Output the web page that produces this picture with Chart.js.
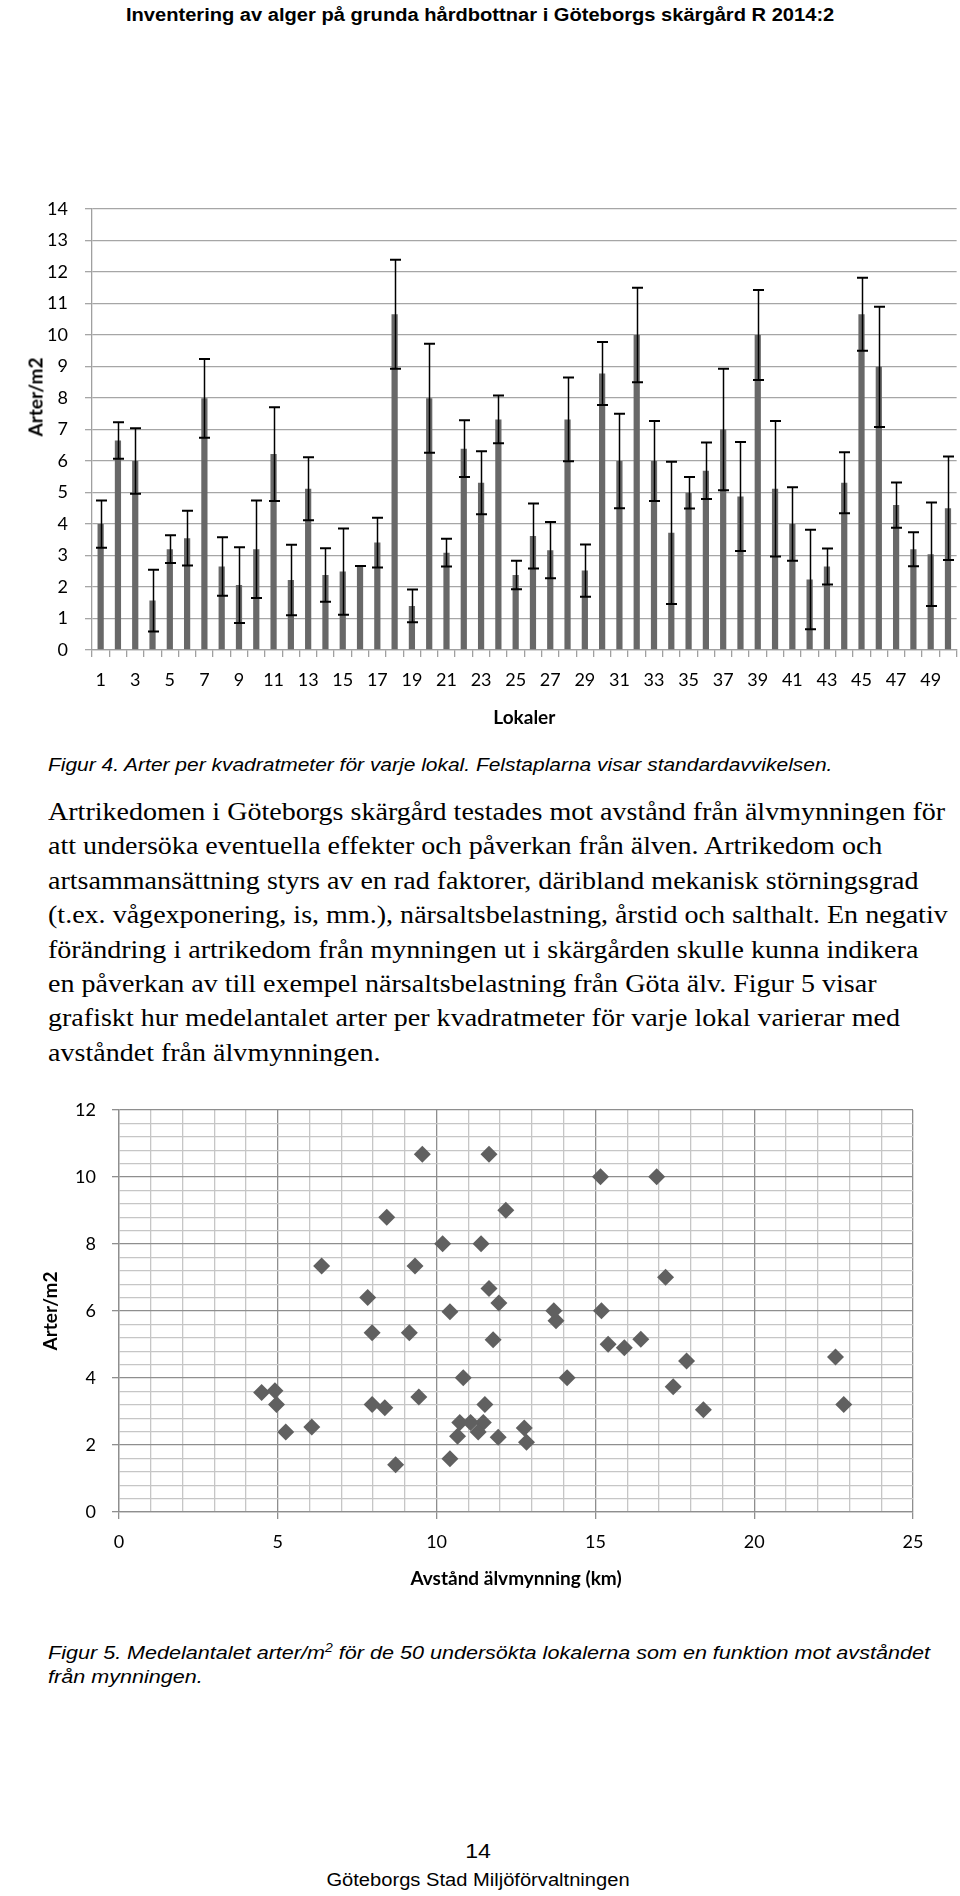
<!DOCTYPE html>
<html>
<head>
<meta charset="utf-8">
<script src="https://cdn.jsdelivr.net/npm/chart.js@4.4.0/dist/chart.umd.min.js"></script>
<style>
  body { margin: 0; width: 960px; height: 1896px; position: relative; background: #fff; overflow: hidden; }
  .abs { position: absolute; }
  #header { top: 5px; left: 0; width: 960px; text-align: center; font: bold 18px "Liberation Sans", Arial, sans-serif; line-height: 20px; color: #000; transform: scaleX(1.117); transform-origin: 479px 0; }
  .cap { left: 48px; font: italic 18.5px "Liberation Sans", Arial, sans-serif; line-height: 24px; white-space: nowrap; color: #000; transform-origin: 0 0; }
  .cap sup { font-size: 12px; line-height: 0; }
  #cap4 { top: 753px; transform: scaleX(1.133); }
  #cap5 { top: 1641px; transform: scaleX(1.166); }
  #body { top: 795px; left: 48px; font: 25.5px "Liberation Serif", "Times New Roman", serif; line-height: 34.4px; white-space: nowrap; color: #000; transform: scaleX(1.1); transform-origin: 0 0; }
  #ytitle1 { left: 35px; top: 397px; transform: translate(-50%, -50%) rotate(-90deg); font: bold 19px Lato, sans-serif; white-space: nowrap; }
  #pagenr { top: 1839px; left: 0; width: 956px; text-align: center; font: 21px "Liberation Sans", Arial, sans-serif; transform: scaleX(1.1); transform-origin: 478px 0; }
  #footer { top: 1870px; left: 0; width: 956px; text-align: center; font: 17.5px "Liberation Sans", Arial, sans-serif; transform: scaleX(1.15); transform-origin: 478px 0; }
</style>
</head>
<body>
<div id="header" class="abs">Inventering av alger på grunda hårdbottnar i Göteborgs skärgård R 2014:2</div>

<canvas id="barChart" class="abs" width="960" height="560" style="left:0;top:180px"></canvas>
<div id="ytitle1" class="abs">Arter/m2</div>

<div id="cap4" class="abs cap">Figur 4. Arter per kvadratmeter för varje lokal. Felstaplarna visar standardavvikelsen.</div>

<div id="body" class="abs">Artrikedomen i Göteborgs skärgård testades mot avstånd från älvmynningen för<br>
att undersöka eventuella effekter och påverkan från älven. Artrikedom och<br>
artsammansättning styrs av en rad faktorer, däribland mekanisk störningsgrad<br>
(t.ex. vågexponering, is, mm.), närsaltsbelastning, årstid och salthalt. En negativ<br>
förändring i artrikedom från mynningen ut i skärgården skulle kunna indikera<br>
en påverkan av till exempel närsaltsbelastning från Göta älv. Figur 5 visar<br>
grafiskt hur medelantalet arter per kvadratmeter för varje lokal varierar med<br>
avståndet från älvmynningen.</div>

<canvas id="scatterChart" class="abs" width="960" height="520" style="left:0;top:1080px"></canvas>

<div id="cap5" class="abs cap">Figur 5. Medelantalet arter/m<sup>2</sup> för de 50 undersökta lokalerna som en funktion mot avståndet<br>från mynningen.</div>

<div id="pagenr" class="abs">14</div>
<div id="footer" class="abs">Göteborgs Stad Miljöförvaltningen</div>

<script>
// Figur 4 - arter per m2 per lokal, med standardavvikelse
var lokaler = ["1","2","3","4","5","6","7","8","9","10","11","12","13","14","15","16","17","18","19","20",
  "21","22","23","24","25","26","27","28","29","30","31","32","33","34","35","36","37","38","39","40",
  "41","42","43","44","45","46","47","48","49","50"];
var medel = [4.0, 6.65, 6.0, 1.57, 3.2, 3.55, 7.99, 2.65, 2.06, 3.2,
  6.22, 2.22, 5.12, 2.38, 2.49, 2.67, 3.41, 10.66, 1.40, 7.99,
  3.09, 6.39, 5.31, 7.32, 2.38, 3.62, 3.17, 7.32, 2.52, 8.78,
  6.0, 10.0, 6.0, 3.72, 4.99, 5.69, 7.0, 4.87, 10.0, 5.12,
  4.0, 2.24, 2.65, 5.31, 10.66, 8.99, 4.6, 3.2, 3.04, 4.5];
var stdav = [0.75, 0.58, 1.04, 0.98, 0.44, 0.87, 1.25, 0.93, 1.2, 1.55,
  1.49, 1.12, 1.0, 0.85, 1.37, 0, 0.79, 1.73, 0.52, 1.73,
  0.44, 0.9, 1.0, 0.76, 0.45, 1.03, 0.89, 1.33, 0.83, 1.0,
  1.5, 1.5, 1.27, 2.26, 0.5, 0.9, 1.93, 1.73, 1.43, 2.15,
  1.17, 1.58, 0.57, 0.97, 1.16, 1.91, 0.72, 0.54, 1.64, 1.64];

// Figur 5 - medelantal arter mot avstånd från älvmynningen
var avstand = [9.55, 11.65, 8.43, 10.19, 11.40, 6.38, 9.32, 7.83, 11.65, 10.42,
  11.96, 7.97, 9.14, 11.78, 10.84, 4.49, 4.91, 4.96, 7.97, 8.37,
  9.44, 11.52, 5.25, 6.07, 10.73, 11.07, 11.47, 10.66, 11.31, 11.94,
  10.42, 8.71, 15.16, 16.93, 12.18, 17.21, 13.69, 13.76, 15.19, 15.40,
  15.91, 16.43, 17.87, 22.56, 14.11, 17.45, 18.40, 22.82, 12.76, 12.83];
var arter = [10.68, 10.68, 8.80, 8.01, 8.01, 7.34, 7.34, 6.40, 6.67, 5.98,
  6.24, 5.35, 5.35, 5.14, 4.01, 3.57, 3.62, 3.21, 3.21, 3.11,
  3.43, 3.21, 2.39, 2.54, 2.67, 2.67, 2.67, 2.26, 2.39, 2.23,
  1.59, 1.41, 10.01, 10.01, 9.01, 7.01, 6.01, 5.71, 6.01, 5.01,
  4.90, 5.16, 4.51, 4.63, 4.01, 3.74, 3.05, 3.21, 2.51, 2.08];

var tickFont = { family: "Lato", size: 18 };
var titleFont = { family: "Lato", size: 19, weight: "bold" };

var errorBars = {
  id: "errorBars",
  afterDatasetsDraw: function (chart) {
    var ctx = chart.ctx, x = chart.scales.x, y = chart.scales.y;
    ctx.save();
    ctx.strokeStyle = "#000";
    for (var i = 0; i < medel.length; i++) {
      var cx = Math.round(x.getPixelForValue(i)) + 0.5;
      var yt = y.getPixelForValue(medel[i] + stdav[i]);
      var yb = y.getPixelForValue(medel[i] - stdav[i]);
      ctx.lineWidth = 1.5;
      ctx.beginPath(); ctx.moveTo(cx, yt); ctx.lineTo(cx, yb); ctx.stroke();
      ctx.lineWidth = 2;
      ctx.beginPath();
      ctx.moveTo(cx - 5.5, yt); ctx.lineTo(cx + 5.5, yt);
      ctx.moveTo(cx - 5.5, yb); ctx.lineTo(cx + 5.5, yb);
      ctx.stroke();
    }
    ctx.restore();
  }
};

new Chart(document.getElementById("barChart"), {
  type: "bar",
  data: {
    labels: lokaler,
    datasets: [{
      data: medel,
      backgroundColor: "#686868",
      barPercentage: 0.36,
      categoryPercentage: 1
    }]
  },
  options: {
    responsive: false,
    animation: false,
    layout: { padding: { top: 29, right: 2, left: 0, bottom: 0 } },
    plugins: { legend: { display: false }, tooltip: { enabled: false } },
    scales: {
      x: {
        grid: { drawOnChartArea: false, color: "#a0a0a0", lineWidth: 1.3, tickLength: 7, offset: true },
        border: { color: "#a0a0a0", width: 1.3 },
        ticks: {
          autoSkip: false, maxRotation: 0, color: "#000", font: tickFont, padding: 12,
          callback: function (v, i) { return i % 2 === 0 ? lokaler[i] : ""; }
        },
        title: { display: true, text: "Lokaler", color: "#000", font: titleFont, padding: { top: 0, bottom: 11 } },
        afterFit: function (s) { s.height = 90; }
      },
      y: {
        min: 0, max: 14,
        grid: { color: "#a6a6a6", lineWidth: 1.3, tickLength: 7 },
        border: { color: "#a0a0a0", width: 1.3 },
        ticks: { stepSize: 1, color: "#000", font: tickFont, padding: 17 },
        afterFit: function (s) { s.width = 92; }
      }
    }
  },
  plugins: [errorBars]
});

function isMul(v, m) { return Math.abs(v / m - Math.round(v / m)) < 1e-6; }

new Chart(document.getElementById("scatterChart"), {
  type: "scatter",
  data: {
    datasets: [{
      data: avstand.map(function (d, i) { return { x: d, y: arter[i] }; }),
      pointStyle: "rectRot",
      pointRadius: 8.5,
      backgroundColor: "#606060",
      borderWidth: 0
    }]
  },
  options: {
    responsive: false,
    animation: false,
    layout: { padding: { top: 30, right: 47, left: 0, bottom: 0 } },
    plugins: { legend: { display: false }, tooltip: { enabled: false } },
    scales: {
      x: {
        type: "linear", min: 0, max: 25,
        grid: {
          lineWidth: 1.3, tickLength: 7,
          color: function (c) { return isMul(c.tick.value, 5) ? "#8e8e8e" : "#c6c6c6"; },
          tickColor: function (c) { return isMul(c.tick.value, 5) ? "#8e8e8e" : "rgba(0,0,0,0)"; }
        },
        border: { color: "#8e8e8e", width: 1.3 },
        ticks: {
          stepSize: 1, autoSkip: false, maxRotation: 0, color: "#000", font: tickFont, padding: 12,
          callback: function (v) { return isMul(v, 5) ? String(v) : ""; }
        },
        title: { display: true, text: "Avstånd älvmynning (km)", color: "#000", font: titleFont, padding: { top: 0, bottom: 10 } },
        afterFit: function (s) { s.height = 88; }
      },
      y: {
        min: 0, max: 12,
        grid: {
          lineWidth: 1.3, tickLength: 7,
          color: function (c) { return isMul(c.tick.value, 2) ? "#8e8e8e" : "#c6c6c6"; },
          tickColor: function (c) { return isMul(c.tick.value, 2) ? "#8e8e8e" : "rgba(0,0,0,0)"; }
        },
        border: { color: "#8e8e8e", width: 1.3 },
        ticks: {
          stepSize: 0.4, autoSkip: false, color: "#000", font: tickFont, padding: 16,
          callback: function (v) { return isMul(v, 2) ? String(Math.round(v)) : ""; }
        },
        title: { display: true, text: "Arter/m2", color: "#000", font: titleFont, padding: { top: 39, bottom: 0 } },
        afterFit: function (s) { s.width = 119; }
      }
    }
  }
});
</script>
</body>
</html>
